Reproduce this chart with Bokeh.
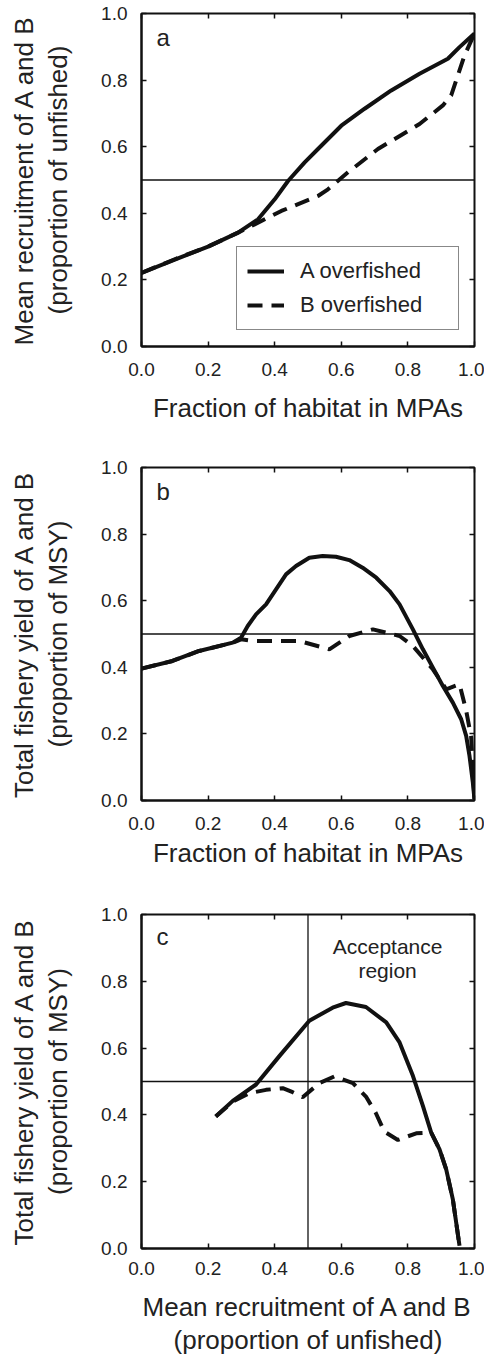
from bokeh.plotting import figure
from bokeh.models import Range1d, LinearAxis, Span, Label, Legend, LegendItem, FixedTicker
from bokeh.layouts import column
from bokeh.embed import file_html
from bokeh.resources import INLINE

# ---------------- data ----------------
ticks = [0.0, 0.2, 0.4, 0.6, 0.8, 1.0]
tick_labels = {0.0: "0.0", 0.2: "0.2", 0.4: "0.4", 0.6: "0.6", 0.8: "0.8", 1.0: "1.0"}

# panel a: mean recruitment vs fraction of habitat in MPAs
a_mpa_A = [0.0, 0.1, 0.2, 0.29, 0.35, 0.4, 0.44, 0.49, 0.53, 0.6, 0.67, 0.75, 0.835, 0.92, 0.955, 1.0]
a_rec_A = [0.221, 0.261, 0.30, 0.342, 0.382, 0.442, 0.497, 0.553, 0.593, 0.663, 0.714, 0.769, 0.819, 0.864, 0.899, 0.94]
a_mpa_B = [0.0, 0.1, 0.2, 0.29, 0.36, 0.42, 0.53, 0.56, 0.62, 0.71, 0.835, 0.905, 0.93, 0.95, 0.97, 1.0]
a_rec_B = [0.221, 0.262, 0.30, 0.342, 0.377, 0.407, 0.452, 0.472, 0.523, 0.593, 0.668, 0.724, 0.754, 0.814, 0.874, 0.94]

# panel b: total fishery yield vs fraction of habitat in MPAs
b_mpa_A = [0.0, 0.093, 0.173, 0.274, 0.299, 0.319, 0.344, 0.374, 0.404, 0.434, 0.464, 0.504, 0.544,
           0.584, 0.624, 0.664, 0.705, 0.745, 0.775, 0.815, 0.845, 0.875, 0.905, 0.935, 0.96, 0.975,
           0.985, 0.995, 1.0]
b_yld_A = [0.396, 0.419, 0.449, 0.474, 0.489, 0.524, 0.559, 0.589, 0.634, 0.679, 0.704, 0.729, 0.734,
           0.732, 0.722, 0.699, 0.669, 0.629, 0.589, 0.514, 0.454, 0.399, 0.344, 0.294, 0.244, 0.194,
           0.134, 0.054, 0.003]
b_mpa_B = [0.0, 0.093, 0.173, 0.274, 0.299, 0.334, 0.474, 0.564, 0.624, 0.695, 0.775, 0.815, 0.875, 0.915, 0.955, 0.975, 0.99, 1.0]
b_yld_B = [0.396, 0.419, 0.449, 0.474, 0.484, 0.479, 0.479, 0.454, 0.494, 0.514, 0.494, 0.464, 0.394, 0.334, 0.349, 0.27, 0.19, 0.0]

# panel c: total fishery yield vs mean recruitment
c_rec_A = [0.223, 0.274, 0.344, 0.414, 0.504, 0.574, 0.614, 0.674, 0.735, 0.775, 0.815, 0.845, 0.87, 0.895, 0.915, 0.935, 0.955]
c_yld_A = [0.395, 0.442, 0.491, 0.576, 0.682, 0.721, 0.735, 0.723, 0.677, 0.617, 0.517, 0.427, 0.347, 0.297, 0.237, 0.147, 0.008]
c_rec_B = [0.223, 0.274, 0.324, 0.374, 0.424, 0.454, 0.484, 0.534, 0.579, 0.635, 0.674, 0.704, 0.729, 0.77, 0.825, 0.87, 0.895, 0.915, 0.935, 0.955]
c_yld_B = [0.395, 0.44, 0.465, 0.475, 0.48, 0.468, 0.453, 0.495, 0.515, 0.495, 0.455, 0.405, 0.35, 0.325, 0.345, 0.347, 0.297, 0.237, 0.147, 0.008]

FONT = "Liberation Sans"
INK = "#111111"
TXT = "#222222"
DASH = "15 9"
LW = 4


def make_fig(height, top, bottom, xlabel, ylabel, xlab_standoff, xlab_lh=1.2, xtick_standoff=16):
    p = figure(width=484, height=height, x_range=Range1d(0, 1), y_range=Range1d(0, 1),
               output_backend="svg", toolbar_location=None,
               min_border_left=141, min_border_right=10,
               min_border_top=top, min_border_bottom=bottom)
    p.grid.visible = False
    p.outline_line_color = INK
    p.outline_line_width = 2
    for ax in (p.xaxis[0], p.yaxis[0]):
        ax.ticker = FixedTicker(ticks=ticks)
        ax.major_label_overrides = tick_labels
        ax.minor_tick_line_color = None
        ax.major_tick_in = 5
        ax.major_tick_out = 0
        ax.major_tick_line_width = 1.5
        ax.major_tick_line_color = INK
        ax.axis_line_width = 2
        ax.axis_line_color = INK
        ax.major_label_text_font = FONT
        ax.major_label_text_font_size = "19px"
        ax.major_label_text_color = TXT
        ax.axis_label_text_font = FONT
        ax.axis_label_text_font_size = "26px"
        ax.axis_label_text_font_style = "normal"
        ax.axis_label_text_color = TXT
    p.xaxis.axis_label = xlabel
    p.yaxis.axis_label = ylabel
    p.xaxis.major_label_standoff = xtick_standoff
    p.yaxis.major_label_standoff = 14
    p.xaxis.axis_label_standoff = xlab_standoff
    p.yaxis.axis_label_standoff = 25
    p.yaxis.axis_label_text_line_height = 1.15
    p.xaxis.axis_label_text_line_height = xlab_lh
    for side in ("right", "above"):
        ax = LinearAxis(ticker=FixedTicker(ticks=ticks), minor_tick_line_color=None,
                        major_tick_in=5, major_tick_out=0, major_tick_line_width=1.5,
                        major_tick_line_color=INK, axis_line_color=None,
                        major_label_overrides={t: "" for t in ticks},
                        major_label_standoff=0)
        p.add_layout(ax, side)
    return p


def panel_letter(p, letter, yy):
    p.add_layout(Label(x=0.045, y=yy, text=letter, text_font=FONT, text_font_size="24px",
                       text_color=TXT, text_baseline="middle", text_align="left"))


# ---------------- panel a ----------------
pa = make_fig(439, 13, 93, "Fraction of habitat in MPAs",
              "Mean recruitment of A and B\n(proportion of unfished)", 14)
pa.add_layout(Span(location=0.5, dimension="width", line_color=INK, line_width=1.3))
ra = pa.line(a_mpa_A, a_rec_A, line_color=INK, line_width=LW)
rb = pa.line(a_mpa_B, a_rec_B, line_color=INK, line_width=LW, line_dash=DASH)
panel_letter(pa, "a", 0.928)
leg = Legend(items=[LegendItem(label="A overfished", renderers=[ra]),
                    LegendItem(label="B overfished", renderers=[rb])],
             location=(95, 16), border_line_color=INK, border_line_width=1.5,
             padding=10, spacing=6, glyph_width=37, glyph_height=28, label_height=28,
             label_width=148, label_standoff=16, margin=0,
             label_text_font=FONT, label_text_font_size="22px", label_text_color=TXT,
             background_fill_alpha=1.0)
pa.add_layout(leg)

# ---------------- panel b ----------------
pb = make_fig(439, 28, 78, "Fraction of habitat in MPAs",
              "Total fishery yield of A and B\n(proportion of MSY)", 5)
pb.add_layout(Span(location=0.5, dimension="width", line_color=INK, line_width=1.3))
pb.line(b_mpa_B, b_yld_B, line_color=INK, line_width=LW, line_dash=DASH)
pb.line(b_mpa_A, b_yld_A, line_color=INK, line_width=LW)
panel_letter(pb, "b", 0.928)

# ---------------- panel c ----------------
pc = make_fig(480, 36, 110, "Mean recruitment of A and B\n(proportion of unfished)",
              "Total fishery yield of A and B\n(proportion of MSY)", 14, xlab_lh=1.12,
              xtick_standoff=13)
pc.add_layout(Span(location=0.5, dimension="width", line_color=INK, line_width=1.3))
pc.add_layout(Span(location=0.5, dimension="height", line_color=INK, line_width=1.3))
pc.line(c_rec_B, c_yld_B, line_color=INK, line_width=LW, line_dash=DASH)
pc.line(c_rec_A, c_yld_A, line_color=INK, line_width=LW)
panel_letter(pc, "c", 0.934)
for txt, yy in (("Acceptance", 0.904), ("region", 0.832)):
    pc.add_layout(Label(x=0.739, y=yy, text=txt, text_font=FONT, text_font_size="21px",
                        text_color=TXT, text_align="center", text_baseline="middle"))

layout = column(pa, pb, pc, spacing=0)
open("out.html", "w").write(file_html(layout, INLINE))
